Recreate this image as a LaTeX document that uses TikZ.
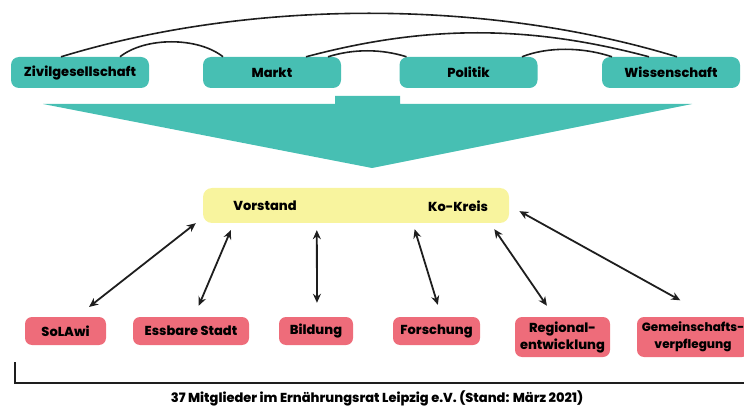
\documentclass[tikz,border=0pt]{standalone}
\usepackage{fontspec}
\setmainfont{Poppins}[BoldFont={Poppins ExtraBold}]
\usetikzlibrary{arrows.meta}

\definecolor{ratTeal}{HTML}{47BFB3}
\definecolor{ratPink}{HTML}{EE6C7A}
\definecolor{ratYellow}{HTML}{F8F49E}
\definecolor{ratLine}{HTML}{1E1E1E}

\begin{document}
\begin{tikzpicture}[x=1pt, y=-1pt,
    sector/.style={fill=ratTeal, rounded corners=8pt, minimum width=138pt, minimum height=31pt,
      inner sep=0pt, font=\bfseries\fontsize{13}{15}\selectfont},
    member/.style={fill=ratPink, rounded corners=7pt, minimum height=28pt, inner sep=0pt,
      align=center, font=\bfseries\fontsize{13}{17}\selectfont},
    lbl/.style={font=\bfseries\fontsize{13}{15}\selectfont, inner sep=0pt},
    link/.style={draw=ratLine, line width=1.6pt},
    both/.style={draw=ratLine, line width=1.8pt, {Stealth[length=9pt,width=8pt]}-{Stealth[length=9pt,width=8pt]}}]
                    \useasboundingbox (0,0) rectangle (744,406);
                    % Sectors:
                    \node[sector] (zivil) at (80,72.5) {Zivilgesellschaft};
                    \node[sector] (markt) at (272,72.5) {Markt};
                    \node[sector] (politik) at (468.5,72.5) {Politik};
                    \node[sector] (wissen) at (671,72.5) {Wissenschaft};
                    % Links between the sectors:
                    \draw[link] ([xshift=-19pt]zivil.north) .. controls +(190,-58) and +(-190,-58) .. ([xshift=6pt]wissen.north);
                    \draw[link] ([xshift=40pt]zivil.north) .. controls +(25,-20) and +(-25,-20) .. ([xshift=-49pt]markt.north);
                    \draw[link] ([xshift=34pt]markt.north) .. controls +(120,-32) and +(-120,-32) .. ([xshift=-22pt]wissen.north);
                    \draw[link] ([xshift=56pt]markt.north) .. controls +(25,-8) and +(-25,-8) .. ([xshift=-62pt]politik.north);
                    \draw[link] ([xshift=53.5pt]politik.north) .. controls +(25,-10) and +(-30,-10) .. ([xshift=-59pt]wissen.north);
                    % Big arrow:
                    \fill[ratTeal] (335,96) -- (400,96) -- (400,104) -- (692,104) -- (372,168) -- (43,104) -- (335,104) -- cycle;
                    % Council:
                    \node[fill=ratYellow, rounded corners=9pt, minimum width=306pt, minimum height=35pt] (kreis) at (356,205.5) {};
                    \node[lbl] (vorstand) at (265,206) {Vorstand};
                    \node[lbl] (kokreis) at (458,206) {Ko-Kreis};
                    % Working groups:
                    \node[member, minimum width=81pt] (solawi) at (65.5,331) {SoLAwi};
                    \node[member, minimum width=116pt] (essbare) at (191,331) {Essbare Stadt};
                    \node[member, minimum width=74pt] (bildung) at (316,331) {Bildung};
                    \node[member, minimum width=87pt] (forschung) at (436.5,331) {Forschung};
                    \node[member, minimum width=95pt, minimum height=40pt] (regional) at (562.5,337) {Regional-\\entwicklung};
                    \node[member, minimum width=112pt, minimum height=40pt, font=\bfseries\fontsize{12}{17}\selectfont] (gemein) at (693,337) {Gemeinschafts-\\verpflegung};
                    % Arrows:
                    \draw[both, shorten <=16pt] ([xshift=11pt]solawi.north) -- ([xshift=-7pt]kreis.south west);
                    \draw[both, shorten <=12pt, shorten >=7.5pt] ([xshift=3pt]essbare.north) -- ([xshift=31pt]kreis.south west);
                    \draw[both, shorten <=14pt, shorten >=7pt] ([xshift=1pt]bildung.north) -- ([xshift=114pt]kreis.south west);
                    \draw[both, shorten <=12.5pt, shorten >=6.3pt] ([xshift=5pt]forschung.north) -- ([xshift=210pt]kreis.south west);
                    \draw[both, shorten <=13.4pt, shorten >=7.3pt] ([xshift=-8pt]regional.north) -- ([xshift=-19pt]kreis.south east);
                    \draw[both, shorten <=34pt, shorten >=11.7pt] ([xshift=17pt]gemein.north) -- (kreis.east);
                    % Members:
                    \coordinate (brtop) at (15,362);
                    \coordinate (brend) at (744,383);
                    \draw[draw=ratLine, line width=1.6pt] (brtop) |- (brend);
                    \node[lbl] (caption) at (377,398) {37 Mitglieder im Ernährungsrat Leipzig e.V. (Stand: März 2021)};
                \end{tikzpicture}
\end{document}
